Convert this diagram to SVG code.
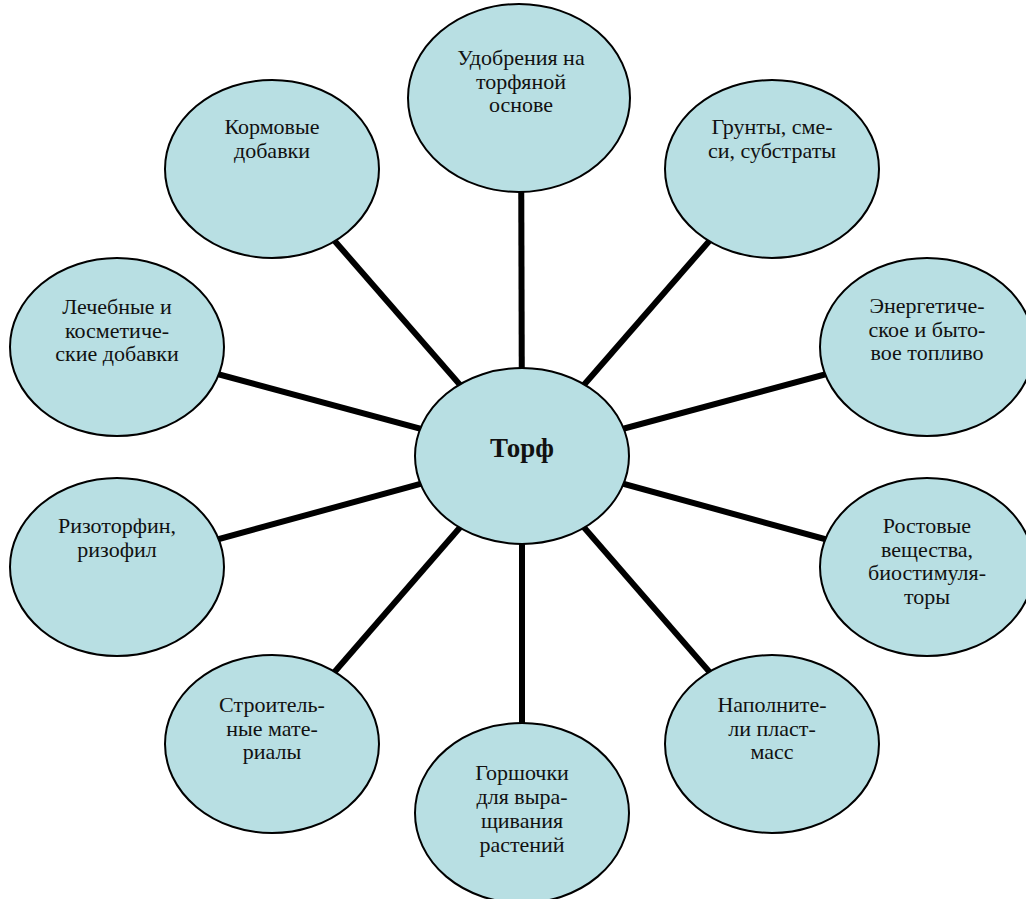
<svg xmlns="http://www.w3.org/2000/svg" width="1026" height="899" viewBox="0 0 1026 899">
<style>
.n{fill:#b8dfe3;stroke:#000;stroke-width:2}
.t{font-family:"Liberation Serif","Times New Roman",serif;font-size:22px;fill:#111;text-anchor:middle}
.c{stroke:#000;stroke-width:6;stroke-linecap:butt}
.b{font-family:"Liberation Serif","Times New Roman",serif;font-size:27px;font-weight:bold;fill:#111;text-anchor:middle}
</style>
<rect width="1026" height="899" fill="#fff"/>
<g id="connectors">
<line class="c" x1="522" y1="456" x2="521" y2="98"/>
<line class="c" x1="522" y1="456" x2="772" y2="169"/>
<line class="c" x1="522" y1="456" x2="927" y2="347"/>
<line class="c" x1="522" y1="456" x2="927" y2="567"/>
<line class="c" x1="522" y1="456" x2="772" y2="744"/>
<line class="c" x1="522" y1="456" x2="522" y2="813"/>
<line class="c" x1="522" y1="456" x2="272" y2="744"/>
<line class="c" x1="522" y1="456" x2="117" y2="567"/>
<line class="c" x1="522" y1="456" x2="117" y2="347"/>
<line class="c" x1="522" y1="456" x2="272" y2="169"/>
</g>
<g id="n-top">
<ellipse class="n" cx="519" cy="98" rx="111" ry="94"/>
<text class="t" x="521" y="65">Удобрения на</text>
<text class="t" x="521" y="88.5">торфяной</text>
<text class="t" x="521" y="112">основе</text>
</g>
<g id="n-topright">
<ellipse class="n" cx="772" cy="169" rx="107" ry="89"/>
<text class="t" x="772" y="134">Грунты, сме-</text>
<text class="t" x="772" y="157.5">си, субстраты</text>
</g>
<g id="n-right">
<ellipse class="n" cx="927" cy="347" rx="107" ry="89"/>
<text class="t" x="927" y="313">Энергетиче-</text>
<text class="t" x="927" y="336.5">ское и быто-</text>
<text class="t" x="927" y="360">вое топливо</text>
</g>
<g id="n-rightlow">
<ellipse class="n" cx="927" cy="567" rx="107" ry="89"/>
<text class="t" x="927" y="533">Ростовые</text>
<text class="t" x="927" y="556.5">вещества,</text>
<text class="t" x="927" y="580">биостимуля-</text>
<text class="t" x="927" y="603.5">торы</text>
</g>
<g id="n-bottomright">
<ellipse class="n" cx="772" cy="744" rx="107" ry="89"/>
<text class="t" x="772" y="712">Наполните-</text>
<text class="t" x="772" y="735.5">ли пласт-</text>
<text class="t" x="772" y="759">масс</text>
</g>
<g id="n-bottom">
<ellipse class="n" cx="522" cy="813" rx="107" ry="90"/>
<text class="t" x="522" y="780">Горшочки</text>
<text class="t" x="522" y="804">для выра-</text>
<text class="t" x="522" y="828">щивания</text>
<text class="t" x="522" y="852">растений</text>
</g>
<g id="n-bottomleft">
<ellipse class="n" cx="272" cy="744" rx="107" ry="89"/>
<text class="t" x="272" y="712">Строитель-</text>
<text class="t" x="272" y="735.5">ные мате-</text>
<text class="t" x="272" y="759">риалы</text>
</g>
<g id="n-leftlow">
<ellipse class="n" cx="117" cy="567" rx="107" ry="89"/>
<text class="t" x="117" y="533">Ризоторфин,</text>
<text class="t" x="117" y="556.5">ризофил</text>
</g>
<g id="n-left">
<ellipse class="n" cx="117" cy="347" rx="107" ry="89"/>
<text class="t" x="117" y="314">Лечебные и</text>
<text class="t" x="117" y="337.5">косметиче-</text>
<text class="t" x="117" y="361">ские добавки</text>
</g>
<g id="n-topleft">
<ellipse class="n" cx="272" cy="169" rx="107" ry="89"/>
<text class="t" x="272" y="134">Кормовые</text>
<text class="t" x="272" y="157.5">добавки</text>
</g>
<g id="n-center">
<ellipse class="n" cx="522" cy="456" rx="107" ry="88"/>
<text class="b" x="522" y="457">Торф</text>
</g>
</svg>
